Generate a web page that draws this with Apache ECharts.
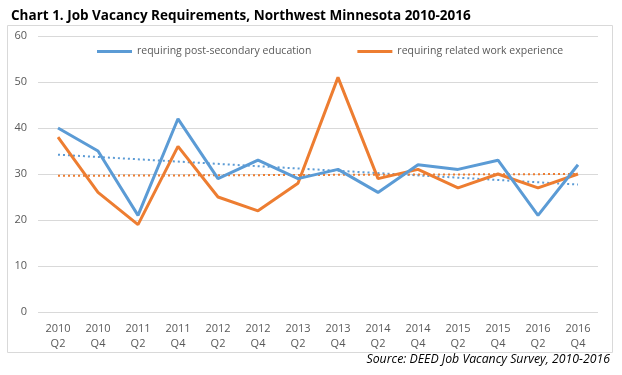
<!DOCTYPE html>
<html>
<head>
<meta charset="utf-8">
<script src="https://cdn.jsdelivr.net/npm/echarts@6/dist/echarts.min.js"></script>
<style>
html,body{margin:0;padding:0;background:#fff;}
#c{width:622px;height:375px;}
</style>
</head>
<body>
<div id="c"></div>
<script>
// data
const periods = ['2010\nQ2','2010\nQ4','2011\nQ2','2011\nQ4','2012\nQ2','2012\nQ4','2013\nQ2','2013\nQ4','2014\nQ2','2014\nQ4','2015\nQ2','2015\nQ4','2016\nQ2','2016\nQ4'];
const postSecondary = [40, 35, 21, 42, 29, 33, 29, 31, 26, 32, 31, 33, 21, 32];
const workExperience = [38, 26, 19, 36, 25, 22, 28, 51, 29, 31, 27, 30, 27, 30];
// trend line end points (first and last period), as drawn in the picture
const postTrend = [34.2, 27.7];
const workTrend = [29.6, 30.0];

const blue = '#5B9BD5', orange = '#ED7D31';
const last = periods.length - 1;

const chart = echarts.init(document.getElementById('c'));
chart.setOption({
  animation: false,
  textStyle: {fontFamily: 'Open Sans'},
  title: {
    text: 'Chart 1. Job Vacancy Requirements, Northwest Minnesota 2010-2016',
    left: 6, top: 4,
    textStyle: {fontFamily: 'Open Sans', fontWeight: 'bold', fontSize: 13.5, color: '#000'}
  },
  graphic: [
    {type: 'rect', shape: {x: 7.5, y: 25.5, width: 605, height: 327}, style: {fill: null, stroke: '#d9d9d9', lineWidth: 1}, z: -1},
    {type: 'text', right: 12, top: 353, style: {text: 'Source: DEED Job Vacancy Survey, 2010-2016', font: 'italic 12.3px "Open Sans"', fill: '#000'}}
  ],
  legend: {
    top: 41, left: 92, itemGap: 46, itemWidth: 35, itemHeight: 3,
    icon: 'rect',
    textStyle: {color: '#595959', fontSize: 10.5},
    data: ['requiring post-secondary education', 'requiring related work experience']
  },
  grid: {left: 38, right: 24, top: 36, bottom: 63},
  xAxis: {
    type: 'category', data: periods, boundaryGap: true,
    axisLine: {show: false}, axisTick: {show: false},
    axisLabel: {color: '#595959', fontSize: 11, lineHeight: 15, margin: 9, interval: 0}
  },
  yAxis: {
    type: 'value', min: 0, max: 60, interval: 10,
    axisLine: {show: false}, axisTick: {show: false},
    axisLabel: {color: '#595959', fontSize: 11, margin: 11},
    splitLine: {lineStyle: {color: '#d9d9d9'}}
  },
  series: [
    {name: 'requiring post-secondary education', type: 'line', data: postSecondary, symbol: 'none',
      lineStyle: {color: blue, width: 3}, itemStyle: {color: blue}, z: 3},
    {name: 'requiring related work experience', type: 'line', data: workExperience, symbol: 'none',
      lineStyle: {color: orange, width: 3}, itemStyle: {color: orange}, z: 2},
    {name: 'trend post', type: 'line', data: [[0, postTrend[0]], [last, postTrend[1]]], symbol: 'none',
      lineStyle: {color: blue, width: 2, type: [2, 3]}, z: 1},
    {name: 'trend work', type: 'line', data: [[0, workTrend[0]], [last, workTrend[1]]], symbol: 'none',
      lineStyle: {color: orange, width: 2, type: [2, 3]}, z: 1}
  ]
});
</script>
</body>
</html>
